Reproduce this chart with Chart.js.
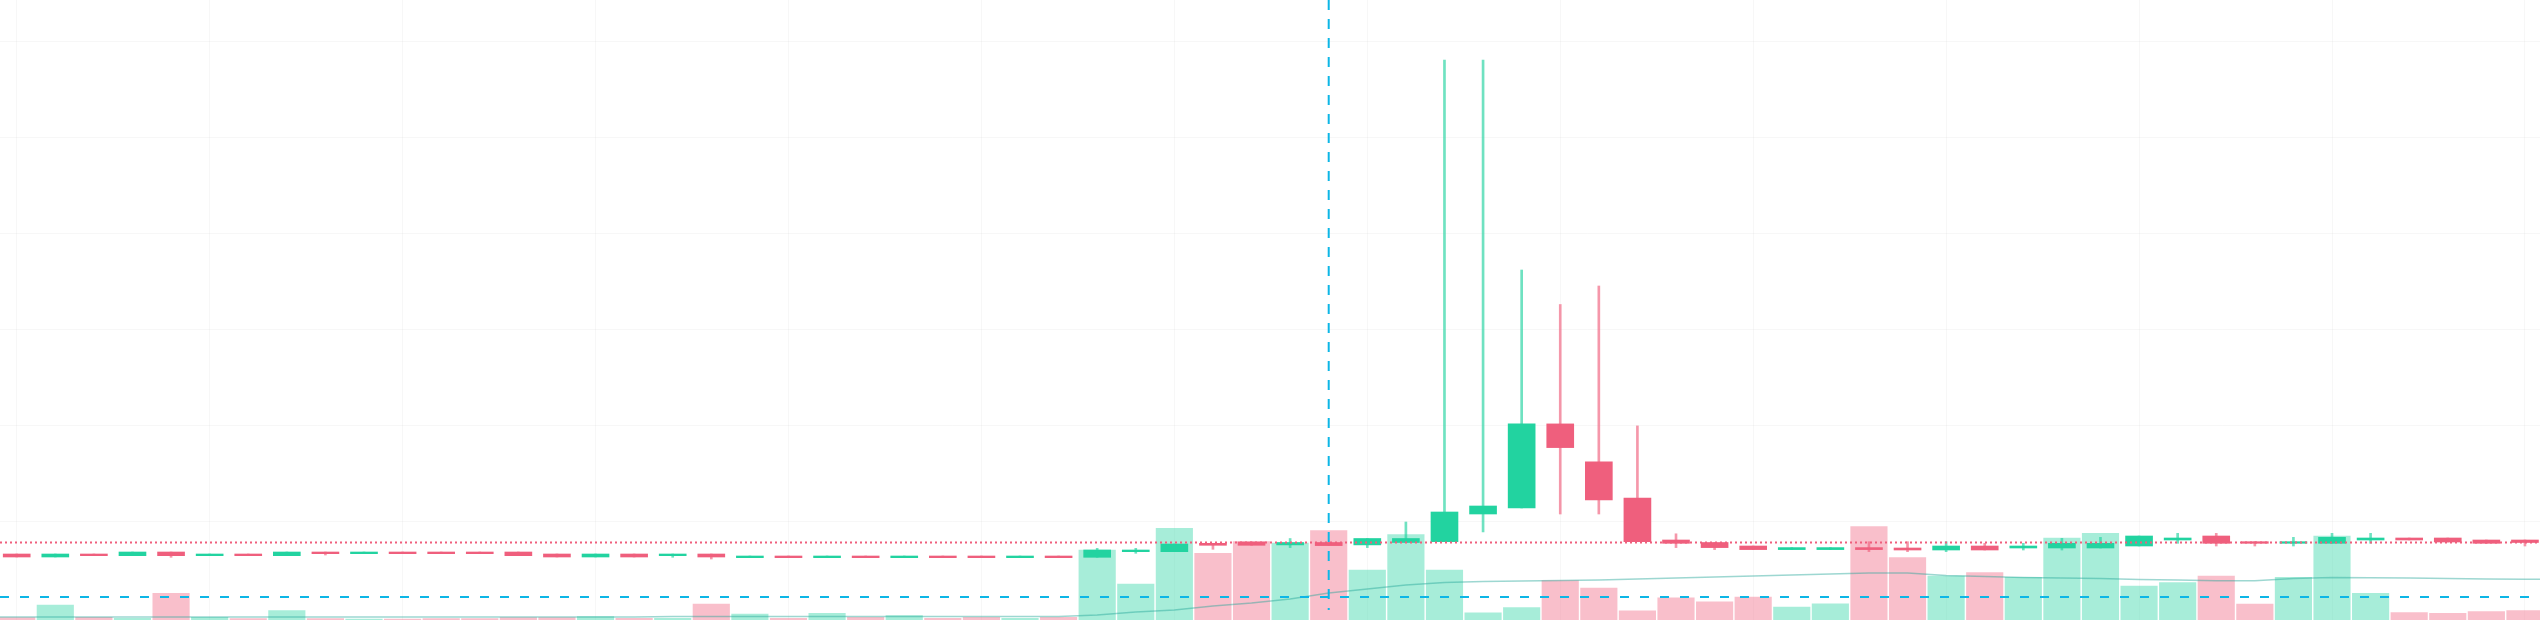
<!DOCTYPE html>
<html>
<head>
<meta charset="utf-8">
<script src="https://cdn.jsdelivr.net/npm/chart.js@4.4.1/dist/chart.umd.min.js"></script>
<style>
  html, body { margin: 0; padding: 0; background: #ffffff; }
  #wrap { width: 2540px; height: 620px; position: relative; }
</style>
</head>
<body>
<div id="wrap"><canvas id="myChart"></canvas></div>
<script>
// candle data (index = bar number)
const opens  = [0.566, 0.563, 0.566, 0.5643, 0.568, 0.5643, 0.566, 0.5643, 0.568, 0.5663, 0.568, 0.568, 0.568, 0.568, 0.566, 0.563, 0.566,
                0.5643, 0.566, 0.5623, 0.564, 0.5623, 0.564, 0.5623, 0.564, 0.564, 0.5623, 0.564, 0.5627, 0.5683, 0.5683, 0.5767, 0.578,
                0.5751, 0.5775, 0.5751, 0.5775, 0.5783, 0.606, 0.612, 0.6961, 0.6582, 0.622, 0.580, 0.5775, 0.574, 0.5704, 0.5704, 0.5724,
                0.572, 0.570, 0.574, 0.572, 0.572, 0.572, 0.574, 0.580, 0.584, 0.5783, 0.5767, 0.5767, 0.580, 0.582, 0.582, 0.580, 0.580];
const closes = [0.563, 0.566, 0.5643, 0.568, 0.5643, 0.566, 0.5643, 0.568, 0.5663, 0.568, 0.5663, 0.5663, 0.5663, 0.5643, 0.563, 0.566, 0.563,
                0.566, 0.563, 0.564, 0.5623, 0.564, 0.5623, 0.564, 0.5623, 0.5623, 0.564, 0.5623, 0.570, 0.570, 0.576, 0.5747, 0.5747,
                0.5775, 0.5744, 0.5815, 0.5815, 0.608, 0.614, 0.6961, 0.6724, 0.6202, 0.5783, 0.5767, 0.5724, 0.5704, 0.5724, 0.5724, 0.5704,
                0.570, 0.574, 0.570, 0.574, 0.5767, 0.5767, 0.584, 0.582, 0.5767, 0.5767, 0.5783, 0.5827, 0.582, 0.580, 0.578, 0.5767, 0.5775];
const highs  = [0.566, 0.566, 0.566, 0.568, 0.568, 0.566, 0.566, 0.568, 0.568, 0.568, 0.568, 0.568, 0.568, 0.568, 0.566, 0.566, 0.566,
                0.566, 0.566, 0.564, 0.564, 0.564, 0.564, 0.564, 0.564, 0.564, 0.564, 0.564, 0.5717, 0.5717, 0.576, 0.5767, 0.578,
                0.5815, 0.5775, 0.5815, 0.598, 1.0599, 1.060, 0.850, 0.8155, 0.834, 0.6941, 0.5862, 0.5775, 0.574, 0.5724, 0.5724, 0.5783,
                0.5783, 0.5783, 0.5767, 0.5767, 0.5817, 0.5827, 0.584, 0.5867, 0.5867, 0.5783, 0.5827, 0.5867, 0.5867, 0.582, 0.582, 0.580, 0.580];
const lows   = [0.563, 0.563, 0.5643, 0.5643, 0.5627, 0.5643, 0.5643, 0.5643, 0.565, 0.5663, 0.5663, 0.5663, 0.5663, 0.5643, 0.563, 0.563, 0.563,
                0.5627, 0.561, 0.5623, 0.5623, 0.5623, 0.5623, 0.5623, 0.5623, 0.5623, 0.5623, 0.5623, 0.5627, 0.5667, 0.5683, 0.5707, 0.5747,
                0.5724, 0.5744, 0.5724, 0.5775, 0.5783, 0.5882, 0.612, 0.606, 0.606, 0.5783, 0.5724, 0.5704, 0.5704, 0.5704, 0.5704, 0.5684,
                0.5683, 0.5683, 0.570, 0.570, 0.570, 0.572, 0.574, 0.5767, 0.574, 0.574, 0.574, 0.5767, 0.5767, 0.580, 0.578, 0.5767, 0.574];
const volumes = [2500, 15000, 2700, 1700, 26700, 2700, 1300, 9300, 1300, 1000, 1000, 1300, 1300, 2300, 2300, 3300, 1700,
                 1700, 16000, 6000, 1700, 6700, 2700, 4300, 1700, 2700, 1700, 2700, 70000, 36000, 91700, 66700, 78300,
                 77000, 89400, 49800, 85400, 49800, 7100, 12300, 39500, 32000, 9100, 22100, 18200, 22900, 13000, 16200, 93300,
                 62300, 44000, 47300, 42700, 82000, 86700, 34000, 37300, 44000, 16000, 42700, 84000, 26700, 7300, 6700, 8300, 9300];
// volume moving average
const volumeMA = [3000, 3000, 3000, 3000, 3000, 3000, 3000, 3000, 3000, 3000, 3000, 3000, 3000, 3000, 3000, 3000, 3000,
                  3500, 3500, 3500, 3500, 3500, 3500, 3500, 3500, 3500, 3500, 3500, 5000, 8000, 10000, 14000, 17000,
                  21000, 27000, 31000, 35000, 37600, 38500, 39000, 39500, 40000, 41000, 42000, 43000, 44000, 45000, 46000, 47000,
                  47000, 44500, 43500, 42500, 42000, 41500, 40500, 40000, 39300, 39300, 41500, 42500, 42300, 42000, 41500, 41000, 40800];

const priceGrid = [0.599, 0.695, 0.791, 0.887, 0.983, 1.079];
const barGrid = [0, 5, 10, 15, 20, 25, 30, 35, 40, 45, 50, 55, 60, 65];
const lastPrice = 0.5775;
const crossIndex = 34;
const crossPrice = 0.523;
const crossBottom = 0.510;

const xMin = -0.433, xMax = 65.39;
const yMin = 0.5, yMax = 1.12;
const volMax = 620000;

const upColor = "#22d3a0";
const downColor = "#ef5f7d";
const upWick = "rgba(34,211,160,0.65)";
const downWick = "rgba(239,95,125,0.65)";
const upVol = "rgba(34,211,160,0.4)";
const downVol = "rgba(239,95,125,0.4)";

let isUp = opens.map((o, i) => closes[i] >= o);

let bodyData = opens.map((o, i) => ({ x: i, y: [o, closes[i]] }));
let wickData = opens.map((o, i) => ({ x: i, y: [lows[i], highs[i]] }));
let volData = volumes.map((v, i) => ({ x: i, y: v }));
let maData = volumeMA.map((v, i) => ({ x: i, y: v }));
maData.unshift({ x: xMin, y: volumeMA[0] });
maData.push({ x: xMax, y: volumeMA[volumeMA.length - 1] });

const data = {
    datasets: [{
        type: "bar",
        label: "body",
        data: bodyData,
        yAxisID: "y",
        grouped: false,
        barThickness: 27,
        minBarLength: 1,
        backgroundColor: isUp.map(u => u ? upColor : downColor),
        borderWidth: 0,
        order: 3
    }, {
        type: "bar",
        label: "wick",
        data: wickData,
        yAxisID: "y",
        grouped: false,
        barThickness: 2,
        backgroundColor: isUp.map(u => u ? upWick : downWick),
        borderWidth: 0,
        order: 4
    }, {
        type: "bar",
        label: "volume",
        data: volData,
        yAxisID: "yv",
        grouped: false,
        barThickness: 36.5,
        backgroundColor: isUp.map(u => u ? upVol : downVol),
        borderWidth: 0,
        order: 6
    }, {
        type: "line",
        label: "MA",
        data: maData,
        yAxisID: "yv",
        borderColor: "rgba(38,166,154,0.45)",
        borderWidth: 1.5,
        pointRadius: 0,
        tension: 0,
        order: 5
    }, {
        type: "line",
        label: "price",
        data: [{ x: xMin, y: lastPrice }, { x: xMax, y: lastPrice }],
        yAxisID: "y",
        borderColor: "#ef5f7d",
        borderWidth: 2,
        borderDash: [2, 3],
        pointRadius: 0,
        order: 2
    }, {
        type: "line",
        label: "crossV",
        data: [{ x: crossIndex, y: yMax }, { x: crossIndex, y: crossBottom }],
        yAxisID: "y",
        borderColor: "#0db6e6",
        borderWidth: 2,
        borderDash: [10, 9],
        pointRadius: 0,
        order: 1
    }, {
        type: "line",
        label: "crossH",
        data: [{ x: xMin, y: crossPrice }, { x: xMax, y: crossPrice }],
        yAxisID: "y",
        borderColor: "#0db6e6",
        borderWidth: 2,
        borderDash: [9, 11],
        pointRadius: 0,
        order: 1
    }]
};

const gridColor = "rgba(0,0,0,0.03)";
let options = {
    animation: false,
    responsive: true,
    maintainAspectRatio: false,
    layout: { padding: 0 },
    plugins: { legend: { display: false }, tooltip: { enabled: false } },
    scales: {
        x: {
            type: "linear",
            min: xMin,
            max: xMax,
            offset: false,
            ticks: { display: false },
            border: { display: false },
            grid: { color: gridColor, offset: false, drawTicks: false, tickLength: 0 },
            afterBuildTicks: s => { s.ticks = barGrid.map(v => ({ value: v })); }
        },
        y: {
            type: "linear",
            min: yMin,
            max: yMax,
            ticks: { display: false },
            border: { display: false },
            grid: { color: gridColor, drawTicks: false, tickLength: 0 },
            afterBuildTicks: s => { s.ticks = priceGrid.map(v => ({ value: v })); }
        },
        yv: {
            type: "linear",
            min: 0,
            max: volMax,
            display: false
        }
    }
};

const ctx = document.getElementById("myChart").getContext("2d");
let myChart = new Chart(ctx, { data: data, options: options });
</script>
</body>
</html>
